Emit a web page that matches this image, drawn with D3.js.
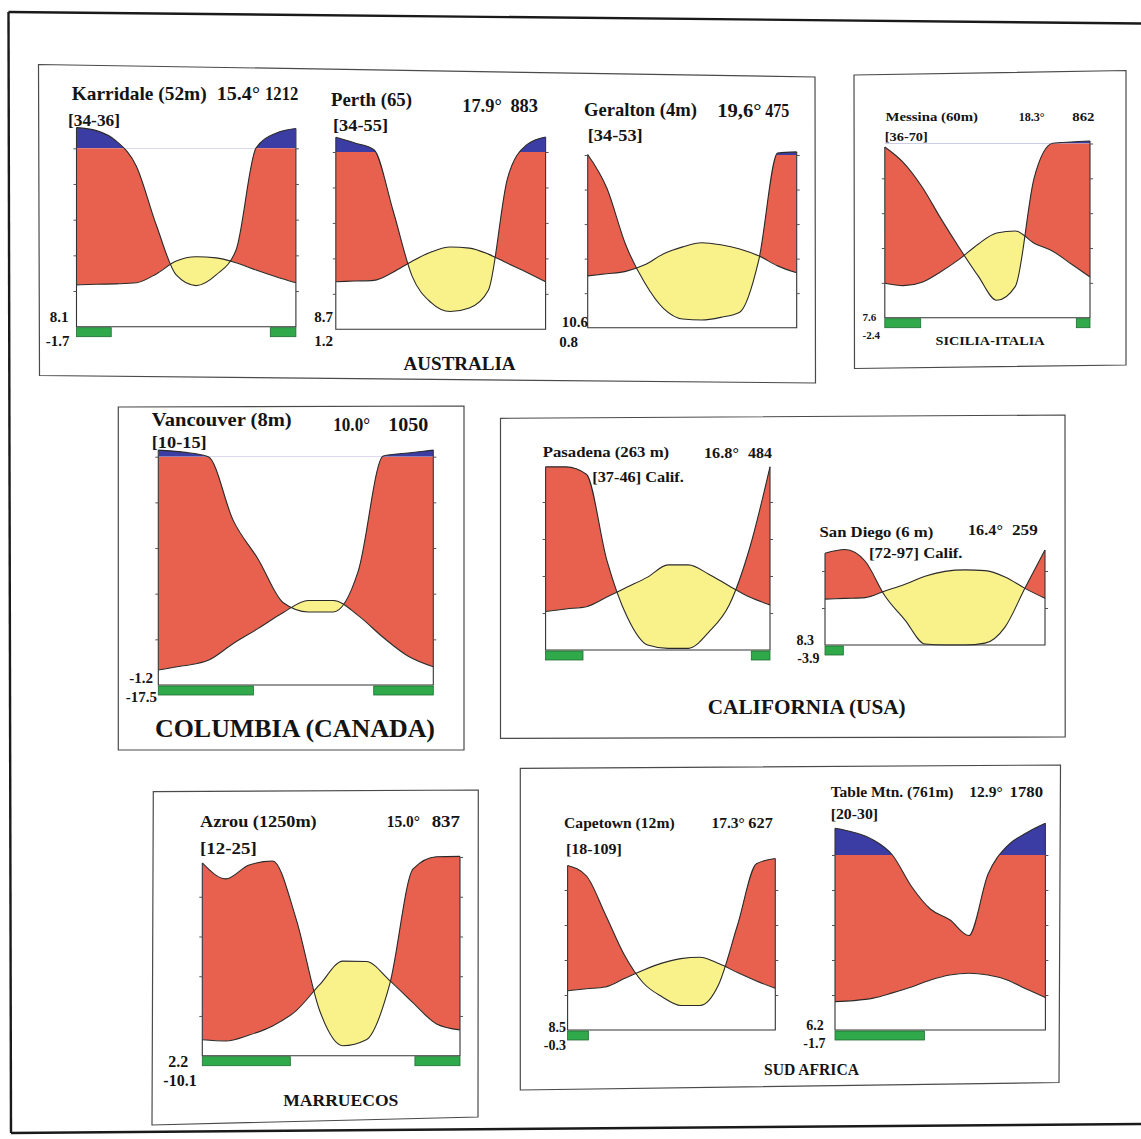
<!DOCTYPE html>
<html><head><meta charset="utf-8">
<script src="https://cdn.jsdelivr.net/npm/d3@7"></script>
<style>
body{margin:0;background:#fff}
svg{display:block}
text{font-family:"Liberation Serif","Times New Roman",serif;font-weight:bold;fill:#141414}
</style>
</head><body>
<svg id="c" width="1141" height="1139"></svg>
<script>
// ---------------- DATA (monthly mean temperature °C, monthly precipitation mm) ----------------
const karridaleT = [11.7, 11.9, 12.0, 12.3, 14.8, 18.4, 19.6, 19.3, 17.9, 15.9, 14.0, 12.3];
const karridaleP = [216, 199, 140, 90, 57, 29, 23, 29, 43, 101, 185, 211];
const perthT     = [13.4, 13.6, 13.8, 16.1, 19.2, 21.8, 23.2, 22.9, 21.2, 18.6, 16.1, 13.4];
const perthP     = [183, 151, 113, 67, 30, 15, 10, 12, 22, 85, 140, 185];
const geraltonT  = [15.0, 15.6, 16.3, 18.2, 21.4, 23.4, 24.6, 24.0, 22.8, 20.8, 17.9, 15.9];
const geraltonP  = [103, 81, 48, 26, 11, 5, 4.5, 6, 9, 39, 112, 118];
const messinaT   = [9.9, 9.2, 10.2, 13.2, 16.8, 21.1, 24.3, 24.9, 21.4, 19.1, 15.4, 11.7];
const messinaP   = [98, 89, 75, 57, 40, 24, 10, 18, 80, 101, 109, 114];
const vancouverT = [3.3, 4.2, 5.4, 9.1, 12.4, 15.9, 18.5, 18.5, 15.2, 10.4, 6.3, 4.0];
const vancouverP = [129, 120, 100, 72, 55, 36, 32, 32, 50, 103, 116, 129];
const pasadenaT  = [10.4, 11.1, 11.7, 14.3, 17.0, 19.7, 23.0, 23.0, 20.5, 17.3, 14.3, 12.2];
const pasadenaP  = [99, 99, 95, 48.6, 17.8, 2.7, 0.9, 0.9, 9.7, 24.3, 55, 99];
const sanDiegoT  = [12.4, 12.6, 12.8, 14.6, 16.4, 18.6, 19.9, 20.3, 20.1, 18.4, 15.3, 12.6];
const sanDiegoP  = [49.6, 51.6, 45.4, 26.5, 13.5, 0.5, 0, 0, 1, 9.7, 30.8, 51.4];
const azrouT     = [4.0, 3.7, 5.2, 7.5, 11.3, 17.8, 23.8, 23.7, 18.9, 13.3, 8.0, 6.5];
const azrouP     = [97, 89, 96, 98, 69, 23, 5, 8, 36, 94, 101, 103];
const capetownT  = [11.2, 11.8, 12.3, 14.7, 17.1, 19.1, 20.4, 20.8, 19.0, 16.4, 14.0, 11.9];
const capetownP  = [94, 88, 66, 43, 27, 19, 14, 14, 26, 60, 95, 98];
const tableMtnT  = [8.1, 8.4, 9.1, 10.6, 12.3, 14.3, 15.7, 16.2, 15.7, 14.3, 11.7, 9.3];
const tableMtnP  = [253, 229, 186, 100, 82, 69, 63, 54, 89, 151, 226, 281];

const stationNames = ["Karridale (52m)", "Perth (65)", "Geralton (4m)", "Messina (60m)", "Vancouver (8m)",
  "Pasadena (263 m)", "San Diego (6 m)", "Azrou (1250m)", "Capetown (12m)", "Table Mtn. (761m)"];
const stationMeanT = ["15.4°", "17.9°", "19,6°", "18.3°", "10.0°", "16.8°", "16.4°", "15.0°", "17.3°", "12.9°"];
const stationTotalP = ["1212", "883", "475", "862", "1050", "484", "259", "837", "627", "1780"];
const stationYears = ["[34-36]", "[34-55]", "[34-53]", "[36-70]", "[10-15]",
  "[37-46] Calif.", "[72-97] Calif.", "[12-25]", "[18-109]", "[20-30]"];
const stationMinMean = ["8.1", "8.7", "10.6", "7.6", "-1.2", null, "8.3", "2.2", "8.5", "6.2"];
const stationMinAbs  = ["-1.7", "1.2", "0.8", "-2.4", "-17.5", null, "-3.9", "-10.1", "-0.3", "-1.7"];
// frost months (ranges in months from the start of the diagram year)
const frostMonths = [[[0, 1.9], [10.6, 12]], [], [], [[0, 2.1], [11.2, 12]], [[0, 4.15], [9.4, 12]],
  [[0, 2.0], [11.0, 12]], [[0, 1.0]], [[0, 4.1], [9.9, 12]], [[0, 1.2]], [[0, 5.1]]];
const regionNames = ["AUSTRALIA", "SICILIA-ITALIA", "COLUMBIA (CANADA)", "CALIFORNIA (USA)", "MARRUECOS", "SUD AFRICA"];

const temps = [karridaleT, perthT, geraltonT, messinaT, vancouverT, pasadenaT, sanDiegoT, azrouT, capetownT, tableMtnT];
const precs = [karridaleP, perthP, geraltonP, messinaP, vancouverP, pasadenaP, sanDiegoP, azrouP, capetownP, tableMtnP];

// ---------------- LAYOUT ----------------
const frames = [
  {left: 76.5, right: 295.9, bottom: 326.7, top: 148.3},
  {left: 335.8, right: 545.6, bottom: 329.3, top: 152},
  {left: 587.7, right: 796.7, bottom: 327.7, top: 155},
  {left: 884.8, right: 1090, bottom: 317.7, top: 143.5},
  {left: 158.3, right: 433.3, bottom: 685, top: 456.7},
  {left: 545.6, right: 770, bottom: 650, top: 465},
  {left: 825, right: 1045, bottom: 645, top: 460},
  {left: 202.3, right: 460, bottom: 1055.7, top: 857},
  {left: 567.6, right: 775.3, bottom: 1030, top: 855},
  {left: 835, right: 1045.4, bottom: 1030, top: 855}
];
// name [x,y,size,len], temp [x,y,len], prec [x,len], years [x,y,size,len], mins [x1end,y1,x2end,y2,size]
const labelPos = [
  {name:[71.7,100,19,135], temp:[216.7,100,43.3], prec:[265,33.3], years:[68,125.5,17,52], mins:[68.5,322,69.6,345.5,15]},
  {name:[331,105.5,19,81], temp:[462.2,112,39.6], prec:[510.4,27.6], years:[333,131,17,55], mins:[333,322,333,345.5,15]},
  {name:[584,115.5,19,113], temp:[717.2,116.5,44.4], prec:[765.3,24], years:[587.7,141,17,55], mins:[588,327,578,347,15]},
  {name:[885.5,121,12.5,92.5], temp:[1018.7,121,25.9], prec:[1072.3,22.2], years:[884.8,140.5,12,43], mins:[876.3,320.5,880,339,11]},
  {name:[151.7,426,19,140], temp:[333.3,431,36.7], prec:[388.3,40], years:[151.7,448,17,55], mins:[153,683,157,702,15]},
  {name:[542.7,456.5,15,126.5], temp:[704,458,34.9], prec:[748,23.9], years:[592.2,482,15,91.7], mins:null},
  {name:[819.5,537,15,113.7], temp:[968,535,34.9], prec:[1012,25.7], years:[869,558,15,93.5], mins:[814,645,819.5,663,14]},
  {name:[200,827,16,116.7], temp:[386.7,827,33.3], prec:[431.7,28.3], years:[200,854,17,56.7], mins:[188.3,1067,196.7,1086,16]},
  {name:[564.1,827.5,14,110.5], temp:[711.4,827.5,33.4], prec:[748.3,24.5], years:[565.9,853.5,14,56], mins:[565.9,1031.5,565.9,1050,14]},
  {name:[830.7,796.5,14,122.8], temp:[969.3,796.5,33.3], prec:[1009.6,33.4], years:[830.7,818.5,14,47.4], mins:[823.7,1030,825.5,1047.5,14]}
];
const regionPos = [[403.6,369.5,19,112],[935.5,344.5,13,109],[155,737,26,280],[707.7,713.5,20,198],[283.3,1106,17,115],[764,1075,16,95]];
const boxes = [
  [[38.5,64.5],[815,77],[815.5,383],[39.5,375.5]],
  [[854,75],[1126,70.5],[1126,365],[854.5,368.5]],
  [[118.3,407],[464,406],[464,750],[118.3,750]],
  [[500.5,418.3],[1065,415],[1065.2,737],[500.5,738.3]],
  [[153.3,791.7],[478.3,790],[478,1117],[152,1125]],
  [[520.3,768.3],[1060.5,765],[1059,1082.5],[520.3,1090]]
];
const outerLines = [[[8.5,12],[1141,23.5]], [[8.5,12],[11,1133]], [[11,1133],[1141,1124]]];

const RED = "#e8614f", YELLOW = "#f9f28a", BLUE = "#3b3da4", GREEN = "#2fa94a", INK = "#2a2a2a";
const CURVE = d3.curveMonotoneX;

// ---------------- DRAW ----------------
const svg = d3.select("#c");
const defs = svg.append("defs");
const line = d3.line();

outerLines.forEach(l => svg.append("path").attr("d", line(l)).attr("fill", "none")
  .attr("stroke", "#1a1a1a").attr("stroke-width", 2.4));
boxes.forEach(b => svg.append("path").attr("d", line(b) + "Z").attr("fill", "none")
  .attr("stroke", "#4a4a4a").attr("stroke-width", 1.2));

function txt(g, s, x, y, size, len, anchor) {
  const t = g.append("text").attr("x", x).attr("y", y).attr("font-size", size).text(s);
  if (len) t.attr("textLength", len).attr("lengthAdjust", "spacingAndGlyphs");
  if (anchor) t.attr("text-anchor", anchor);
  return t;
}

temps.forEach((T, i) => {
  const P = precs[i], f = frames[i], L = labelPos[i];
  const g = svg.append("g");
  const x = d3.scaleLinear().domain([0, 11]).range([f.left, f.right]);
  const xm = d3.scaleLinear().domain([0, 12]).range([f.left, f.right]);
  const y = d3.scaleLinear().domain([0, 50]).range([f.bottom, f.top]);
  const yP = p => p <= 100 ? y(p / 2) : y(50 + (p - 100) / 20);
  const idx = d3.range(12);

  const between = d3.area().curve(CURVE).x(k => x(k)).y0(k => y(T[k])).y1(k => yP(P[k]));
  const humidClip = d3.area().curve(CURVE).x(k => x(k)).y0(k => y(T[k])).y1(y(50));
  const dryClip = d3.area().curve(CURVE).x(k => x(k)).y0(k => y(T[k])).y1(y(0) + 30);
  const blueArea = d3.area().curve(CURVE).x(k => x(k)).y0(y(50)).y1(k => yP(P[k]));

  defs.append("clipPath").attr("id", "hum" + i).append("path").attr("d", humidClip(idx));
  defs.append("clipPath").attr("id", "dry" + i).append("path").attr("d", dryClip(idx));
  defs.append("clipPath").attr("id", "wet" + i).append("rect")
    .attr("x", f.left).attr("y", 0).attr("width", f.right - f.left).attr("height", y(50));

  g.append("path").attr("d", between(idx)).attr("fill", RED).attr("clip-path", `url(#hum${i})`);
  g.append("path").attr("d", between(idx)).attr("fill", YELLOW).attr("clip-path", `url(#dry${i})`);
  g.append("path").attr("d", blueArea(idx)).attr("fill", BLUE).attr("clip-path", `url(#wet${i})`);

  g.append("path").attr("d", d3.line().curve(CURVE).x(k => x(k)).y(k => y(T[k]))(idx))
    .attr("fill", "none").attr("stroke", INK).attr("stroke-width", 1.1);
  g.append("path").attr("d", d3.line().curve(CURVE).x(k => x(k)).y(k => yP(P[k]))(idx))
    .attr("fill", "none").attr("stroke", INK).attr("stroke-width", 1.1);

  // frame: left and right axes up to the curve ends, plus base line
  const topL = Math.min(y(T[0]), yP(P[0])), topR = Math.min(y(T[11]), yP(P[11]));
  g.append("path").attr("d", line([[f.left, topL], [f.left, f.bottom], [f.right, f.bottom], [f.right, topR]]))
    .attr("fill", "none").attr("stroke", "#333").attr("stroke-width", 1.1);
  const tvL = [10, 20, 30, 40, 50].filter(v => y(v) >= topL - 0.5);
  const tvR = [10, 20, 30, 40, 50].filter(v => y(v) >= topR - 0.5);
  const axL = g.append("g").attr("transform", `translate(${f.left},0)`)
    .call(d3.axisLeft(y).tickValues(tvL).tickSize(3).tickFormat(""));
  const axR = g.append("g").attr("transform", `translate(${f.right},0)`)
    .call(d3.axisRight(y).tickValues(tvR).tickSize(3).tickFormat(""));
  [axL, axR].forEach(a => { a.select(".domain").remove(); a.selectAll("line").attr("stroke", "#555"); });

  // frost bars
  frostMonths[i].forEach(r => g.append("rect")
    .attr("x", xm(r[0])).attr("y", f.bottom + 1).attr("width", xm(r[1]) - xm(r[0])).attr("height", 9)
    .attr("fill", GREEN).attr("stroke", "#1d6e31").attr("stroke-width", 0.8));

  // labels
  txt(g, stationNames[i], L.name[0], L.name[1], L.name[2], L.name[3]);
  txt(g, stationMeanT[i], L.temp[0], L.temp[1], L.name[2], L.temp[2]);
  txt(g, stationTotalP[i], L.prec[0], L.temp[1], L.name[2], L.prec[1]);
  txt(g, stationYears[i], L.years[0], L.years[1], L.years[2], L.years[3]);
  if (L.mins && stationMinMean[i] != null) {
    txt(g, stationMinMean[i], L.mins[0], L.mins[1], L.mins[4], null, "end");
    txt(g, stationMinAbs[i], L.mins[2], L.mins[3], L.mins[4], null, "end");
  }
});

regionNames.forEach((r, i) => {
  const p = regionPos[i];
  txt(svg, r, p[0], p[1], p[2], p[3]);
});
</script>
</body></html>
